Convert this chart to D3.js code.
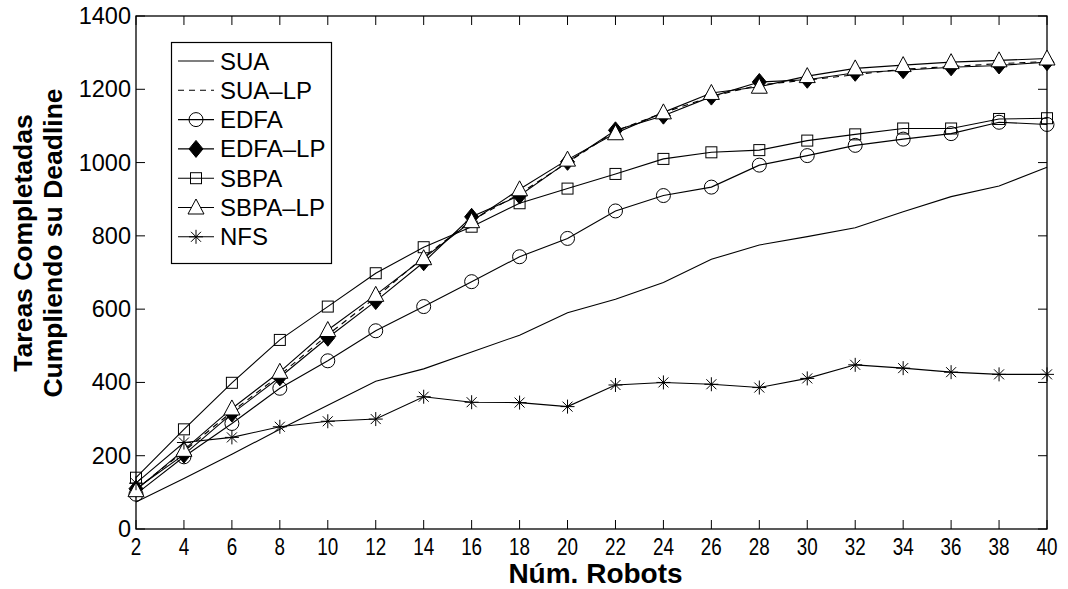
<!DOCTYPE html>
<html><head><meta charset="utf-8">
<script src="https://cdn.jsdelivr.net/npm/d3@7"></script>
<style>
body{margin:0;background:#fff}
svg{display:block}
text{font-family:"Liberation Sans",Arial,Helvetica,sans-serif;fill:#000}
</style>
</head><body>
<svg id="c" width="1068" height="589"></svg>
<script>
// ---- data ----
const robots   = [2,4,6,8,10,12,14,16,18,20,22,24,26,28,30,32,34,36,38,40];
const xTickLabels = ["2","4","6","8","10","12","14","16","18","20","22","24","26","28","30","32","34","36","38","40"];
const yTickValues = [0,200,400,600,800,1000,1200,1400];
const seriesNames = ["SUA","SUA–LP","EDFA","EDFA–LP","SBPA","SBPA–LP","NFS"];
const sua    = [74,138,204,272,338,403,437,483,529,590,627,673,736,775,798,822,866,907,936,987];
const suaLP  = [108,212,320,420,530,632,742,842,915,1000,1086,1136,1180,1212,1225,1240,1255,1262,1270,1276];
const edfa   = [95,197,288,384,459,541,607,675,743,793,868,910,933,993,1019,1047,1064,1079,1110,1104];
const edfaLP = [110,203,315,414,522,622,728,852,910,1002,1088,1128,1180,1220,1226,1245,1252,1260,1265,1274];
const sbpa   = [140,272,399,516,607,698,769,825,889,929,969,1010,1028,1034,1060,1077,1093,1093,1119,1121];
const sbpaLP = [106,216,329,429,543,639,739,840,927,1008,1080,1137,1190,1207,1236,1257,1266,1274,1279,1284];
const nfs    = [125,236,250,279,294,300,361,346,345,334,393,400,395,386,411,448,439,428,422,422];
const xLabel = "Núm. Robots";
const yLabel1 = "Tareas Completadas";
const yLabel2 = "Cumpliendo su Deadline";

const seriesValues = [sua, suaLP, edfa, edfaLP, sbpa, sbpaLP, nfs];
const seriesStyle = [
  {dash:null, marker:null},
  {dash:"6,5", marker:null},
  {dash:null, marker:"circle"},
  {dash:null, marker:"diamond"},
  {dash:null, marker:"square"},
  {dash:null, marker:"triangle"},
  {dash:null, marker:"star"}
];

// ---- layout ----
const L = 136, R = 1047, T = 16, B = 529;
const svg = d3.select("#c");
const x = d3.scaleLinear().domain([2,40]).range([L,R]);
const y = d3.scaleLinear().domain([0,1400]).range([B,T]);

// frame & ticks
const g = svg.append("g");
const tk = 9;
robots.forEach((v,i)=>{
  g.append("line").attr("x1",x(v)).attr("x2",x(v)).attr("y1",B).attr("y2",B-tk).attr("stroke","#000");
  g.append("line").attr("x1",x(v)).attr("x2",x(v)).attr("y1",T).attr("y2",T+tk).attr("stroke","#000");
  g.append("text").attr("x",x(v)).attr("y",555).attr("text-anchor","middle")
    .attr("font-size",23).attr("transform",`translate(${x(v)},0) scale(0.82,1) translate(${-x(v)},0)`)
    .text(xTickLabels[i]);
});
yTickValues.forEach(v=>{
  g.append("line").attr("x1",L).attr("x2",L+tk).attr("y1",y(v)).attr("y2",y(v)).attr("stroke","#000");
  g.append("line").attr("x1",R).attr("x2",R-tk).attr("y1",y(v)).attr("y2",y(v)).attr("stroke","#000");
  g.append("text").attr("x",L-5).attr("y",y(v)+8).attr("text-anchor","end")
    .attr("font-size",23.5).text(v);
});
g.append("rect").attr("x",L).attr("y",T).attr("width",R-L).attr("height",B-T)
  .attr("fill","none").attr("stroke","#000").attr("stroke-width",1.3);

// axis titles
svg.append("text").attr("x",(L+R)/2+4).attr("y",583).attr("text-anchor","middle")
  .attr("font-size",28).attr("font-weight","bold").text(xLabel);
svg.append("text").attr("transform","translate(32,243) rotate(-90)").attr("text-anchor","middle")
  .attr("font-size",26.5).attr("font-weight","bold").text(yLabel1);
svg.append("text").attr("transform","translate(62,243) rotate(-90)").attr("text-anchor","middle")
  .attr("font-size",26.5).attr("font-weight","bold").text(yLabel2);

// markers
function drawMarker(sel, type, cx, cy){
  if(type==="circle"){
    sel.append("circle").attr("cx",cx).attr("cy",cy).attr("r",7).attr("fill","none").attr("stroke","#000");
  } else if(type==="square"){
    sel.append("rect").attr("x",cx-5.5).attr("y",cy-5.5).attr("width",11).attr("height",11).attr("fill","none").attr("stroke","#000");
  } else if(type==="diamond"){
    sel.append("path").attr("d",`M${cx},${cy-8.5}L${cx+7},${cy}L${cx},${cy+8.5}L${cx-7},${cy}Z`).attr("fill","#000").attr("stroke","#000");
  } else if(type==="triangle"){
    sel.append("path").attr("d",`M${cx},${cy-8.5}L${cx+8},${cy+6.5}L${cx-8},${cy+6.5}Z`).attr("fill","#fff").attr("stroke","#000");
  } else if(type==="star"){
    const a=7, d=5;
    sel.append("path").attr("d",`M${cx-a},${cy}L${cx+a},${cy}M${cx},${cy-a}L${cx},${cy+a}M${cx-d},${cy-d}L${cx+d},${cy+d}M${cx-d},${cy+d}L${cx+d},${cy-d}`)
      .attr("stroke","#000").attr("fill","none");
  }
}

const line = d3.line().x((d,i)=>x(robots[i])).y(d=>y(d));
const plot = svg.append("g");
seriesValues.forEach((vals,si)=>{
  const st = seriesStyle[si];
  plot.append("path").datum(vals).attr("d",line).attr("fill","none").attr("stroke","#000")
    .attr("stroke-width",1.1).attr("stroke-dasharray",st.dash);
  if(st.marker){
    const mg = plot.append("g");
    vals.forEach((v,i)=>drawMarker(mg, st.marker, x(robots[i]), y(v)));
  }
});

// legend
const lg = svg.append("g");
lg.append("rect").attr("x",171.5).attr("y",42.5).attr("width",160).attr("height",221)
  .attr("fill","#fff").attr("stroke","#000").attr("stroke-width",1.2);
seriesNames.forEach((nm,i)=>{
  const yy = 61 + i*29.3;
  const st = seriesStyle[i];
  lg.append("line").attr("x1",178).attr("x2",214).attr("y1",yy).attr("y2",yy).attr("stroke","#000")
    .attr("stroke-width",1.1).attr("stroke-dasharray",st.dash);
  if(st.marker) drawMarker(lg, st.marker, 196, yy);
  lg.append("text").attr("x",220).attr("y",yy+8.5).attr("font-size",24).text(nm);
});
</script>
</body></html>
